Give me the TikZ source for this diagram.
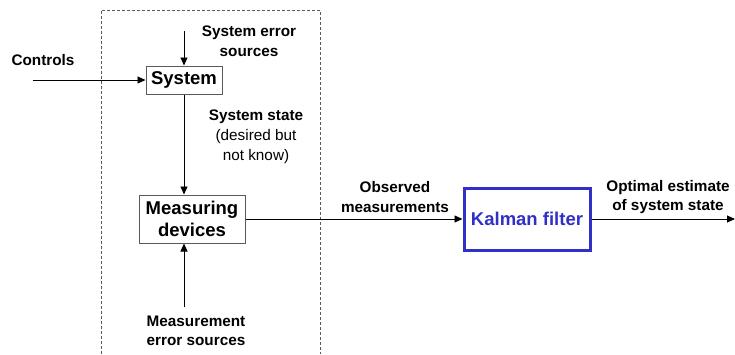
\documentclass[tikz,border=0pt]{standalone}
\usepackage{fontspec}
\setmainfont{Liberation Sans}
\usetikzlibrary{arrows.meta}
\definecolor{kblue}{RGB}{48,48,200}
\definecolor{boxgray}{RGB}{90,90,90}
\begin{document}
\begin{tikzpicture}[x=1pt,y=-1pt,
  lbl/.style={font=\fontsize{15.3}{19.5}\selectfont\bfseries, align=center, inner sep=0pt},
  lblr/.style={font=\fontsize{15.3}{20}\selectfont, align=center, inner sep=0pt},
  blk/.style={draw=boxgray, line width=1pt, font=\fontsize{18.5}{22}\selectfont\bfseries, align=center, inner sep=0pt},
  kal/.style={draw=kblue, line width=3pt, text=kblue, font=\fontsize{18.5}{22}\selectfont\bfseries, inner sep=0pt, minimum width=126pt, minimum height=62pt},
  arr/.style={line width=0.9pt, -{Triangle[length=8pt,width=7pt]}},
  ln/.style={line width=0.9pt}]
\useasboundingbox (0,0) rectangle (735,354);
% dashed enclosure
\draw[boxgray, line width=0.8pt, dash pattern=on 3pt off 2pt] (101,354) -- (101,10) -- (320,10) -- (320,354);
% nodes
\node[lbl] (controls) at (43,60) {Controls};
\node[lbl] (syserr) at (249,41) {System error\\sources};
\node[blk, minimum width=76pt, minimum height=28pt] (system) at (184,80) {System};
\node[lblr] (state) at (256,137) {\textbf{System state}\\(desired but\\not know)};
\node[blk, minimum width=106pt, minimum height=48pt] (meas) at (192,219) {Measuring\\devices};
\node[lbl] (measerr) at (196,331) {Measurement\\error sources};
\node[lbl] (obs) at (395,197) {Observed\\measurements};
\node[kal] (kalman) at (527,219) {Kalman filter};
\node[lbl] (opt) at (668,197) {Optimal estimate\\of system state};
% connector ends
\coordinate (errtop) at (184,31);
\coordinate (ctrlstart) at (33,80);
\coordinate (measbot) at (184,307);
\coordinate (outend) at (735,219);
% connectors
\draw[arr] (errtop) -- (system.north);
\draw[arr] (ctrlstart) -- (system.west);
\draw[arr] (system.south) -- (system.south |- meas.north);
\draw[arr] (measbot) -- (measbot |- meas.south);
\draw[arr] (meas.east) -- (kalman.west);
\draw[arr] (kalman.east) -- (outend);
\end{tikzpicture}
\end{document}
